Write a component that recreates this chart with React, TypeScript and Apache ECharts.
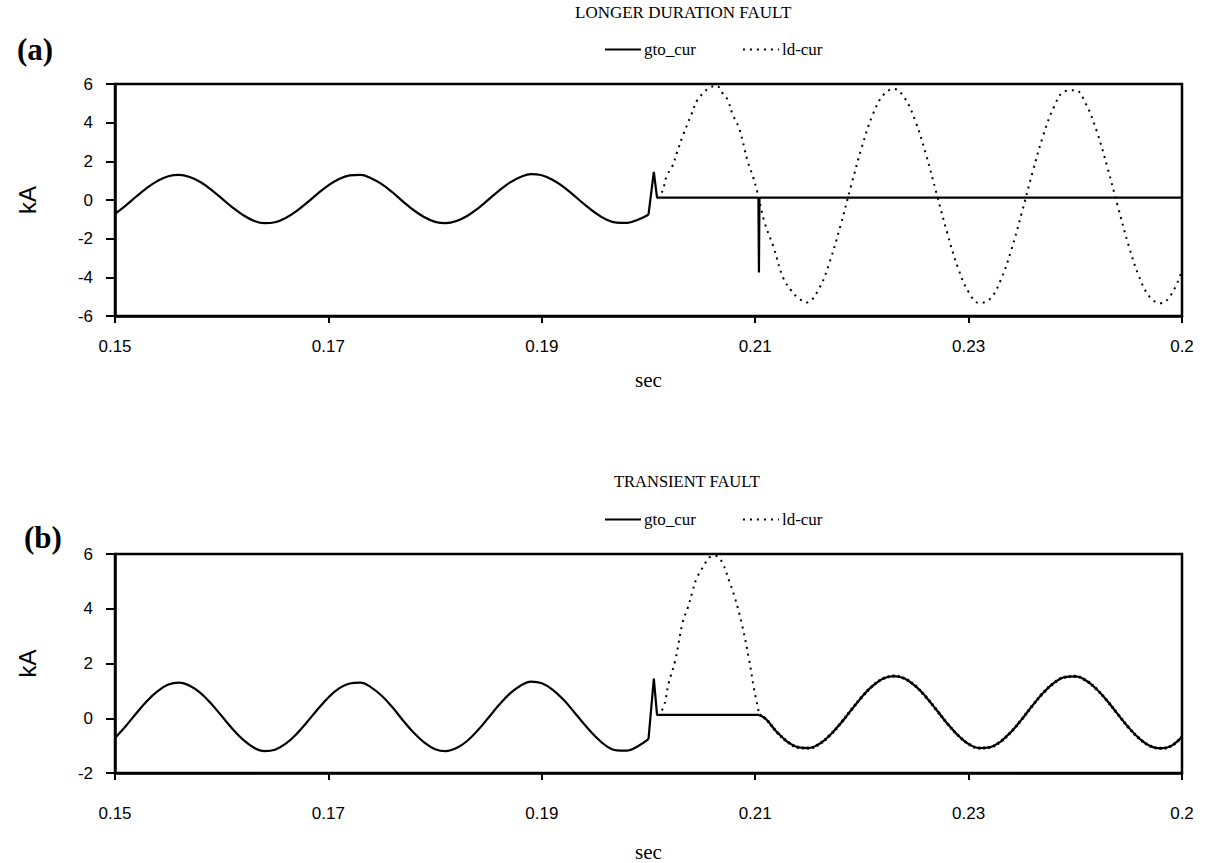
import React, { useEffect, useRef } from 'react';
import * as echarts from 'echarts';

// ---------- data (time in s, current in kA) ----------
const xTicks = [0.15, 0.17, 0.19, 0.21, 0.23, 0.25];
const yTicksA = [-6, -4, -2, 0, 2, 4, 6];
const yTicksB = [-2, 0, 2, 4, 6];

// gto_cur before the fault (same in both plots)
const gtoPreFault: number[][] = [
  [0.150, -0.72], [0.151, -0.29], [0.152, 0.18], [0.153, 0.63], [0.154, 0.99],
  [0.155, 1.23], [0.156, 1.30], [0.157, 1.19], [0.158, 0.93], [0.159, 0.54],
  [0.160, 0.08], [0.161, -0.38], [0.162, -0.78], [0.163, -1.07], [0.164, -1.20],
  [0.165, -1.15], [0.166, -0.93], [0.167, -0.58], [0.168, -0.14], [0.169, 0.33],
  [0.170, 0.76], [0.171, 1.09], [0.172, 1.27], [0.173, 1.30], [0.174, 1.13],
  [0.175, 0.82], [0.176, 0.40], [0.177, -0.08], [0.178, -0.53], [0.179, -0.89],
  [0.180, -1.13], [0.181, -1.20], [0.182, -1.09], [0.183, -0.83], [0.184, -0.44],
  [0.185, 0.02], [0.186, 0.49], [0.187, 0.90], [0.188, 1.19], [0.189, 1.34],
  [0.190, 1.28], [0.191, 1.05], [0.192, 0.69], [0.193, 0.24], [0.194, -0.23],
  [0.195, -0.66], [0.196, -1.00], [0.197, -1.17], [0.198, -1.18], [0.199, -1.02],
  [0.200, -0.76],
];

// (a) longer duration fault: gto_cur during/after fault
const gtoFaultA: number[][] = [
  [0.2000, -0.76], [0.2005, 1.45], [0.2008, 0.12], [0.2103, 0.12],
  [0.21035, -3.75], [0.2104, 0.12], [0.2500, 0.12],
];

// (a) ld-cur
const ldA: number[][] = [
  [0.2008, 0.10], [0.2013, 0.46], [0.2017, 1.24], [0.2022, 1.70], [0.2027, 2.50],
  [0.2032, 3.30], [0.2040, 4.40], [0.2046, 5.20], [0.2051, 5.50], [0.2057, 5.80],
  [0.2064, 5.90], [0.2069, 5.55], [0.2074, 5.20], [0.2079, 4.40], [0.2085, 3.70],
  [0.2093, 2.00], [0.2098, 1.20], [0.2102, 0.40], [0.2109, -1.20], [0.2117, -2.40],
  [0.2126, -4.00], [0.2134, -4.70], [0.2139, -5.00], [0.2148, -5.30], [0.216, -4.56],
  [0.217, -3.17], [0.218, -1.31], [0.219, 0.76], [0.220, 2.75], [0.221, 4.39],
  [0.222, 5.43], [0.223, 5.75], [0.224, 5.28], [0.225, 4.10], [0.226, 2.37],
  [0.227, 0.33], [0.228, -1.71], [0.229, -3.50], [0.230, -4.76], [0.231, -5.33],
  [0.232, -5.12], [0.233, -4.16], [0.234, -2.59], [0.235, -0.63], [0.236, 1.45],
  [0.237, 3.35], [0.238, 4.81], [0.239, 5.62], [0.240, 5.68], [0.241, 4.96],
  [0.242, 3.57], [0.243, 1.71], [0.244, -0.36], [0.245, -2.35], [0.246, -3.99],
  [0.247, -5.03], [0.248, -5.34], [0.249, -4.88], [0.250, -3.65],
];

// (b) transient fault: gto_cur during fault
const gtoFaultB: number[][] = [
  [0.2000, -0.76], [0.2005, 1.45], [0.2008, 0.12], [0.2104, 0.12],
];

// (b) current after the fault is cleared (gto_cur and ld-cur coincide)
const postFaultB: number[][] = [
  [0.2104, 0.12], [0.211, -0.03], [0.212, -0.49], [0.213, -0.85], [0.214, -1.06],
  [0.215, -1.09], [0.216, -0.94], [0.217, -0.62], [0.218, -0.19], [0.219, 0.30],
  [0.220, 0.78], [0.221, 1.18], [0.222, 1.45], [0.223, 1.54], [0.224, 1.45],
  [0.225, 1.18], [0.226, 0.78], [0.227, 0.30], [0.228, -0.19], [0.229, -0.62],
  [0.230, -0.94], [0.231, -1.09], [0.232, -1.06], [0.233, -0.85], [0.234, -0.49],
  [0.235, -0.03], [0.236, 0.47], [0.237, 0.93], [0.238, 1.29], [0.239, 1.50],
  [0.240, 1.53], [0.241, 1.38], [0.242, 1.06], [0.243, 0.63], [0.244, 0.14],
  [0.245, -0.34], [0.246, -0.74], [0.247, -1.01], [0.248, -1.10], [0.249, -1.01],
  [0.250, -0.68],
];

// (b) ld-cur pulse during the fault
const ldPulseB: number[][] = [
  [0.2008, 0.10], [0.2014, 0.40], [0.2019, 1.30], [0.2025, 2.10], [0.2032, 3.50],
  [0.2037, 4.05], [0.2041, 4.60], [0.2045, 5.10], [0.2053, 5.65], [0.2056, 5.85],
  [0.2063, 5.93], [0.2069, 5.70], [0.2076, 4.97], [0.2081, 4.40], [0.2088, 3.35],
  [0.2094, 2.20], [0.2099, 1.05], [0.2104, 0.12],
];

const seriesNames = ['gto_cur', 'ld-cur'];

export default function App() {
  const ref = useRef<HTMLDivElement>(null);
  useEffect(() => {
    document.body.style.margin = '0';
    document.body.style.overflow = 'hidden';
    const chart = echarts.init(ref.current!, null, { renderer: 'svg' });

    const sans = 'Liberation Sans, Arial, sans-serif';
    const serif = 'Liberation Serif, Times New Roman, serif';

    const xFmt = (v: number) => (Math.abs(v - 0.25) < 1e-9 ? '0.2' : v.toFixed(2));

    const mkX = (gridIndex: number, margin: number, nameGap: number) => ({
      type: 'value',
      gridIndex,
      min: xTicks[0],
      max: xTicks[xTicks.length - 1],
      interval: 0.02,
      name: 'sec',
      nameLocation: 'middle',
      nameGap,
      nameTextStyle: { fontFamily: serif, fontSize: 21, color: '#000' },
      axisLine: { show: true, onZero: false, lineStyle: { color: '#000', width: 2.5 } },
      axisTick: { show: true, length: 7, lineStyle: { color: '#000', width: 2 } },
      axisLabel: { formatter: xFmt, margin, fontFamily: sans, fontSize: 17, color: '#000', showMinLabel: true, showMaxLabel: true },
      splitLine: { show: false },
    });

    const mkY = (gridIndex: number, ticks: number[]) => ({
      type: 'value',
      gridIndex,
      min: ticks[0],
      max: ticks[ticks.length - 1],
      interval: 2,
      name: 'kA',
      nameLocation: 'middle',
      nameGap: 76,
      nameRotate: 90,
      nameTextStyle: { fontFamily: sans, fontSize: 24, color: '#000' },
      axisLine: { show: true, onZero: false, lineStyle: { color: '#000', width: 2.5 } },
      axisTick: { show: true, length: 9, lineStyle: { color: '#000', width: 2 } },
      axisLabel: { margin: 22, fontFamily: sans, fontSize: 17, color: '#000' },
      splitLine: { show: false },
    });

    const solid = { color: '#000', width: 2.2, type: 'solid' };
    const dotted = { color: '#000', width: 2, type: [2, 5] };

    const line = (name: string, x: number, data: number[][], smooth: boolean, style: any, z: number) => ({
      type: 'line',
      name,
      xAxisIndex: x,
      yAxisIndex: x,
      data,
      smooth: smooth ? 0.4 : false,
      showSymbol: false,
      symbol: 'none',
      lineStyle: style,
      itemStyle: { color: '#000' },
      z,
      silent: true,
    });

    const legendBase = {
      data: seriesNames,
      orient: 'horizontal',
      left: 604,
      padding: 0,
      itemGap: 46,
      itemWidth: 36,
      itemHeight: 14,
      itemStyle: { opacity: 0 },
      textStyle: { fontFamily: serif, fontSize: 17, color: '#000', padding: [0, 0, 0, -2] },
    };

    chart.setOption({
      animation: false,
      backgroundColor: '#fff',
      grid: [
        { left: 115, top: 84, width: 1067, height: 232, show: true, borderColor: '#000', borderWidth: 2.5, backgroundColor: 'transparent' },
        { left: 115, top: 554, width: 1067, height: 225, show: true, borderColor: '#000', borderWidth: 2.5, backgroundColor: 'transparent' },
      ],
      xAxis: [mkX(0, 22, 53), mkX(1, 32, 68)],
      yAxis: [mkY(0, yTicksA), mkY(1, yTicksB)],
      legend: [
        { ...legendBase, top: 41 },
        { ...legendBase, top: 511 },
      ],
      graphic: [
        { type: 'text', left: 575, top: 4, style: { text: 'LONGER DURATION FAULT', font: `17px ${serif}`, fill: '#000' } },
        { type: 'text', left: 614, top: 473, style: { text: 'TRANSIENT FAULT', font: `16.5px ${serif}`, fill: '#000' } },
        { type: 'text', left: 17, top: 34, style: { text: '(a)', font: `bold 31px ${serif}`, fill: '#000' } },
        { type: 'text', left: 24, top: 522, style: { text: '(b)', font: `bold 31px ${serif}`, fill: '#000' } },
      ],
      series: [
        line('ld-cur', 0, ldA, true, dotted, 2),
        line('gto_cur', 0, gtoPreFault, true, solid, 3),
        line('gto_cur', 0, gtoFaultA, false, solid, 3),
        line('ld-cur', 1, ldPulseB, true, dotted, 2),
        line('ld-cur', 1, postFaultB, true, { ...dotted, width: 3, type: [2, 3] }, 2),
        line('gto_cur', 1, gtoPreFault, true, solid, 3),
        line('gto_cur', 1, gtoFaultB, false, solid, 3),
        line('gto_cur', 1, postFaultB, true, solid, 3),
      ],
    });
    return () => chart.dispose();
  }, []);
  return <div ref={ref} style={{ width: 1208, height: 863 }} />;
}
